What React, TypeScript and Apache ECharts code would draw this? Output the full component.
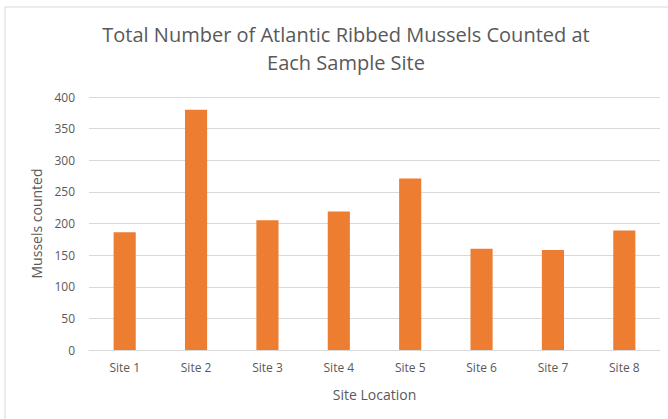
import React, { useEffect, useRef } from "react";
import * as echarts from "echarts";

const categories = ["Site 1", "Site 2", "Site 3", "Site 4", "Site 5", "Site 6", "Site 7", "Site 8"];
const musselCounts = [186, 380, 205, 219, 271, 160, 158, 189];
const titleText = "Total Number of Atlantic Ribbed Mussels Counted at\nEach Sample Site";
const yAxisName = "Mussels counted";
const xAxisName = "Site Location";

export default function App() {
  const ref = useRef<HTMLDivElement>(null);
  useEffect(() => {
    if (!ref.current) return;
    const chart = echarts.init(ref.current, null, { renderer: "svg" });
    const font = "'Open Sans', 'Noto Sans', sans-serif";
    chart.setOption({
      animation: false,
      backgroundColor: "#ffffff",
      graphic: [
        {
          type: "rect",
          shape: { x: 5, y: 7, width: 680, height: 430 },
          style: { fill: "none", stroke: "#d9d9d9", lineWidth: 1 },
          silent: true,
        },
      ],
      title: {
        text: titleText,
        left: 341,
        textAlign: "center",
        top: 15,
        textStyle: {
          fontFamily: font,
          fontSize: 20,
          fontWeight: "normal",
          color: "#595959",
          lineHeight: 28,
        },
      },
      grid: { left: 89, right: 8, top: 97, bottom: 69, containLabel: false },
      xAxis: {
        type: "category",
        data: categories,
        name: xAxisName,
        nameLocation: "middle",
        nameGap: 37,
        nameTextStyle: { fontFamily: font, fontSize: 14, color: "#595959" },
        axisLine: { show: true, lineStyle: { color: "#d9d9d9" } },
        axisTick: { show: false },
        axisLabel: { fontFamily: font, fontSize: 12, color: "#595959", margin: 11 },
      },
      yAxis: {
        type: "value",
        min: 0,
        max: 400,
        interval: 50,
        name: yAxisName,
        nameLocation: "middle",
        nameGap: 44,
        nameRotate: 90,
        nameTextStyle: { fontFamily: font, fontSize: 14, color: "#595959" },
        axisLine: { show: false },
        axisTick: { show: false },
        axisLabel: { fontFamily: font, fontSize: 12, color: "#595959", margin: 14 },
        splitLine: { lineStyle: { color: "#d9d9d9" } },
      },
      series: [
        {
          type: "bar",
          data: musselCounts,
          barWidth: "31%",
          itemStyle: { color: "#ED7D31" },
        },
      ],
    });
    return () => chart.dispose();
  }, []);
  return (
    <div
      ref={ref}
      style={{ position: "fixed", left: 0, top: 0, width: 668, height: 419 }}
    />
  );
}
